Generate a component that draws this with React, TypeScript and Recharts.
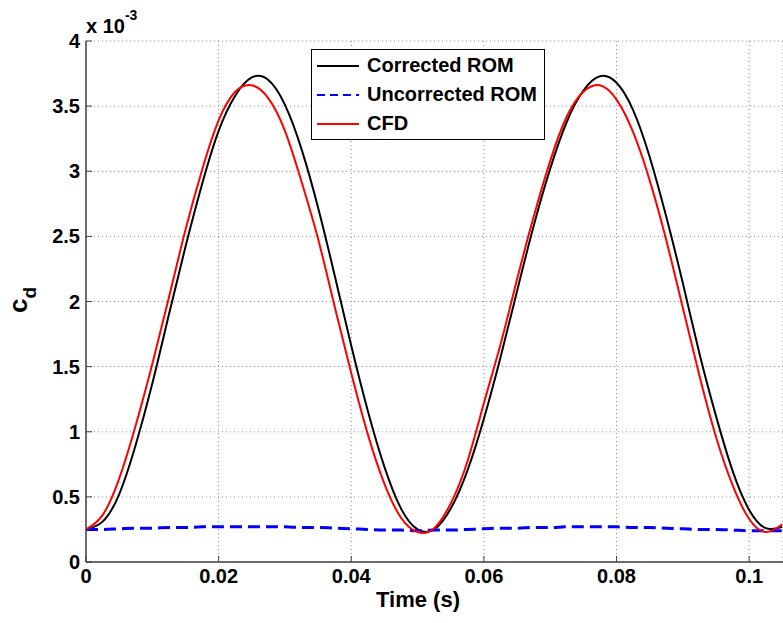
import { LineChart, Line, XAxis, YAxis, CartesianGrid, Legend, Label } from 'recharts'

// Drag coefficient vs. time, values in units of 1e-3 (axis shows "x 10^-3")
const time = [
  0, 0.0025, 0.005, 0.0075, 0.01, 0.0125, 0.015, 0.0175, 0.02, 0.0225,
  0.025, 0.0275, 0.03, 0.0325, 0.035, 0.0375, 0.04, 0.0425, 0.045, 0.0475,
  0.05, 0.0525, 0.055, 0.0575, 0.06, 0.0625, 0.065, 0.0675, 0.07, 0.0725,
  0.075, 0.0775, 0.08, 0.0825, 0.085, 0.0875, 0.09, 0.0925, 0.095, 0.0975,
  0.1, 0.1025, 0.105,
]
const correctedRom = [
  0.25, 0.31, 0.52, 0.9, 1.37, 1.9, 2.42, 2.9, 3.31, 3.58,
  3.72, 3.7, 3.51, 3.17, 2.72, 2.2, 1.66, 1.16, 0.73, 0.41,
  0.25, 0.25, 0.41, 0.7, 1.1, 1.57, 2.08, 2.58, 3.02, 3.38,
  3.62, 3.73, 3.68, 3.47, 3.11, 2.65, 2.14, 1.6, 1.12, 0.7,
  0.4, 0.26, 0.27,
]
const uncorrectedRom = [
  0.25, 0.25, 0.255, 0.26, 0.26, 0.265, 0.265, 0.27, 0.27, 0.27,
  0.27, 0.27, 0.27, 0.265, 0.265, 0.26, 0.255, 0.25, 0.245, 0.245,
  0.24, 0.245, 0.245, 0.25, 0.255, 0.26, 0.26, 0.265, 0.265, 0.27,
  0.27, 0.27, 0.27, 0.265, 0.265, 0.26, 0.255, 0.25, 0.25, 0.245,
  0.24, 0.24, 0.24,
]
const cfd = [
  0.25, 0.36, 0.64, 1.05, 1.52, 2.03, 2.55, 3.01, 3.39, 3.61,
  3.66, 3.56, 3.31, 2.92, 2.48, 1.96, 1.45, 0.98, 0.6, 0.34,
  0.23, 0.26, 0.45, 0.77, 1.22, 1.67, 2.17, 2.65, 3.08, 3.42,
  3.61, 3.66, 3.55, 3.3, 2.93, 2.47, 1.95, 1.43, 0.96, 0.59,
  0.33, 0.23, 0.29,
]
const xTicks = [0, 0.02, 0.04, 0.06, 0.08, 0.1]
const yTicks = [0, 0.5, 1, 1.5, 2, 2.5, 3, 3.5, 4]

const data = time.map((t, i) => ({
  t,
  corrected: correctedRom[i],
  uncorrected: uncorrectedRom[i],
  cfd: cfd[i],
}))

const FONT = "'Liberation Sans', Arial, Helvetica, sans-serif"
const tickStyle = { fill: '#000', fontSize: 20, fontWeight: 'bold', fontFamily: FONT }

const legendRows = [
  { name: 'Corrected ROM', color: '#000000', dash: undefined },
  { name: 'Uncorrected ROM', color: '#0000ff', dash: '8 5' },
  { name: 'CFD', color: '#ff0000', dash: undefined },
]

function LegendBox() {
  return (
    <div style={{ width: 232, height: 88, border: '1px solid #000', background: '#fff', boxSizing: 'content-box', paddingTop: 1 }}>
      {legendRows.map(r => (
        <div key={r.name} style={{ display: 'flex', alignItems: 'center', height: 29, fontFamily: FONT, fontWeight: 'bold', fontSize: 20, color: '#000' }}>
          <svg width={50} height={10} style={{ marginLeft: 5 }}>
            <line x1={0} y1={5} x2={42} y2={5} stroke={r.color} strokeWidth={2} strokeDasharray={r.dash} />
          </svg>
          <span>{r.name}</span>
        </div>
      ))}
    </div>
  )
}

export default function App() {
  return (
    <div style={{ position: 'absolute', left: 0, top: 0, width: 783, height: 623, background: '#fff', overflow: 'hidden' }}>
      <LineChart width={783} height={623} data={data} margin={{ top: 41, right: 0, bottom: 21, left: 0 }}>
        <CartesianGrid stroke="#8c8c8c" strokeDasharray="1 3" />
        <XAxis
          dataKey="t"
          type="number"
          domain={[0, 0.1051]}
          ticks={xTicks}
          allowDataOverflow
          height={40}
          tick={tickStyle}
          tickSize={-6}
          tickMargin={13}
          tickLine={{ stroke: '#404040' }}
          axisLine={{ stroke: '#404040', strokeWidth: 1.5 }}
          tickFormatter={v => String(v)}
        >
          <Label
            content={() => (
              <text x={418} y={607} textAnchor="middle" fontFamily={FONT} fontWeight="bold" fontSize={22} fill="#000">
                Time (s)
              </text>
            )}
          />
        </XAxis>
        <YAxis
          type="number"
          domain={[0, 4]}
          ticks={yTicks}
          width={86}
          tick={tickStyle}
          tickSize={-6}
          tickMargin={12}
          tickLine={{ stroke: '#404040' }}
          axisLine={{ stroke: '#404040', strokeWidth: 1.5 }}
          tickFormatter={v => String(v)}
        >
          <Label
            content={() => (
              <g>
                <text x={27} y={300} transform="rotate(-90 27 300)" textAnchor="middle" fontFamily={FONT} fontWeight="bold" fontSize={26} fill="#000">
                  c<tspan dy={9} fontSize={19}>d</tspan>
                </text>
                <text x={86} y={33} fontFamily={FONT} fontWeight="bold" fontSize={20} fill="#000">
                  x 10<tspan dy={-13} fontSize={14}>-3</tspan>
                </text>
              </g>
            )}
          />
        </YAxis>
        <Legend
          layout="vertical"
          align="center"
          verticalAlign="middle"
          content={() => <LegendBox />}
          wrapperStyle={{ position: 'absolute', left: 311, top: 49, width: 234, height: 90 }}
        />
        <Line type="natural" dataKey="corrected" name="Corrected ROM" stroke="#000000" strokeWidth={2} dot={false} isAnimationActive={false} />
        <Line type="monotone" dataKey="uncorrected" name="Uncorrected ROM" stroke="#0000ff" strokeWidth={3} strokeDasharray="12 6" dot={false} isAnimationActive={false} />
        <Line type="natural" dataKey="cfd" name="CFD" stroke="#ff0000" strokeWidth={2} dot={false} isAnimationActive={false} />
      </LineChart>
    </div>
  )
}
